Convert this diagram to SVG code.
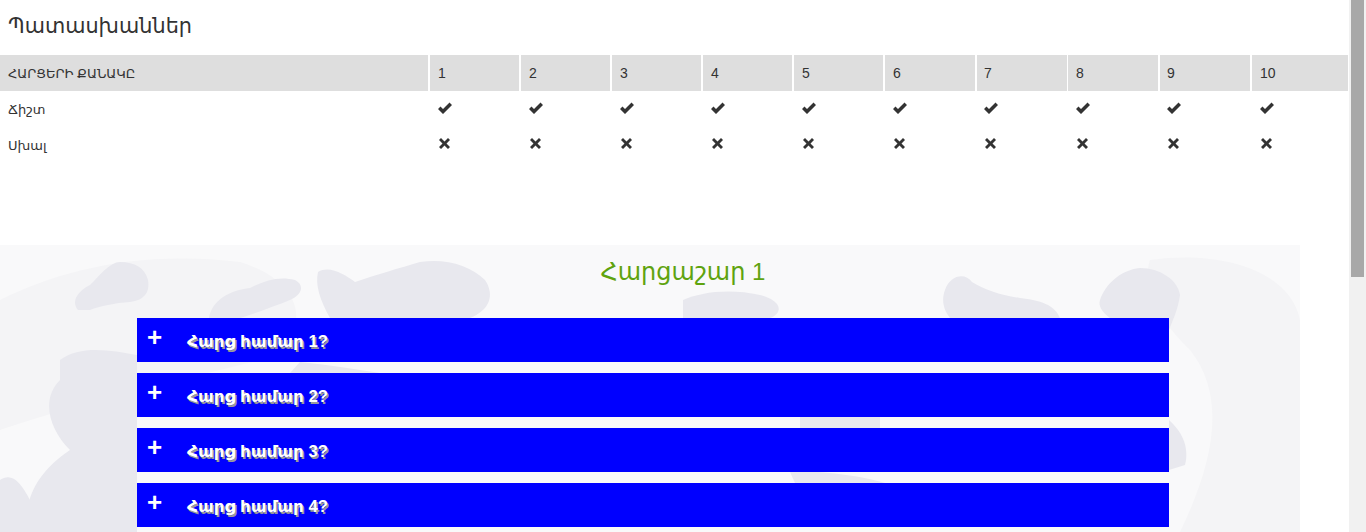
<svg xmlns="http://www.w3.org/2000/svg" width="1366" height="532" viewBox="0 0 1366 532">
<style>
.t{font-family:"Liberation Sans","DejaVu Sans",sans-serif;fill:#333}
.hd{font-size:13px}
.num{font-size:14px}
.title{font-size:21px}
.qs{font-family:"Liberation Sans","DejaVu Sans",sans-serif;font-size:24px;fill:#5fa30f}
.q{font-family:"Liberation Sans","DejaVu Sans",sans-serif;font-size:16.5px;font-weight:bold}
.qsh{fill:#9a9a9a}
.qw{fill:#fff}
.plus{font-family:"Liberation Sans","DejaVu Sans",sans-serif;font-size:26px;font-weight:bold;fill:#fff}
.cell{fill:#dedede}
.bar{fill:#0000ff}
.blob{fill:#e8e8ee}
.blob2{fill:#f4f4f6}
</style>
<defs>
<path id="chk" d="M0,6 L2.5,3.5 L5,6 L11.5,-0.5 L14,2 L5,11 Z" fill="#333"/>
<path id="crs" d="M0,2 L2,0 L5.5,3.5 L9,0 L11,2 L7.5,5.5 L11,9 L9,11 L5.5,7.5 L2,11 L0,9 L3.5,5.5 Z" fill="#333"/>
</defs>
<rect width="1366" height="532" fill="#fff"/>
<g id="camo">
<rect x="0" y="245" width="1300" height="287" fill="#f9f9fa"/>
<path class="blob2" d="M0,300 C60,270 140,250 240,262 C300,280 320,330 260,360 C180,380 90,400 0,430 Z"/>
<path class="blob2" d="M1150,260 C1220,250 1290,270 1300,320 L1300,532 L1180,532 C1210,470 1230,400 1190,350 C1160,320 1140,290 1150,260 Z"/>
<path class="blob" d="M78,310 C70,300 80,290 90,285 C100,275 110,262 120,262 C135,262 145,268 148,280 C150,292 145,300 130,302 C115,303 100,306 90,310 Z"/>
<path class="blob" d="M209,318 C212,300 230,290 250,288 C265,280 280,276 295,280 C305,285 302,295 290,300 C270,308 250,315 235,320 Z"/>
<path class="blob" d="M318,272 C330,265 345,275 355,282 C375,275 400,268 420,262 C445,258 470,265 485,280 C495,295 490,310 470,318 L330,318 C320,300 315,285 318,272 Z"/>
<path class="blob" d="M683,300 C700,292 730,288 760,295 C780,300 785,312 770,318 L683,318 Z"/>
<path class="blob" d="M945,290 C950,275 965,272 972,282 C985,290 1000,295 1020,298 C1040,300 1055,305 1060,318 L950,318 C942,308 942,298 945,290 Z"/>
<path class="blob" d="M1100,300 C1105,285 1120,270 1140,268 C1160,268 1178,280 1180,295 C1178,310 1172,322 1169,330 L1169,318 L1110,318 C1102,312 1098,306 1100,300 Z"/>
<path class="blob" d="M60,360 C80,345 110,350 137,355 L137,532 L30,532 C20,500 40,470 70,450 C50,430 40,400 60,380 Z"/>
<path class="blob" d="M0,480 C15,470 25,490 35,510 L40,532 L0,532 Z"/>
<path class="blob" d="M800,417 C820,410 860,412 880,417 L880,428 L800,428 Z"/>
<path class="blob" d="M300,362 C330,365 360,370 380,373 L290,373 Z"/>
<path class="blob" d="M790,472 C820,470 860,476 885,483 L795,483 Z"/>
<path class="blob" d="M1169,420 C1180,430 1190,445 1185,465 L1169,470 Z"/>
</g>
<g id="scrollbar">
<rect x="1349" y="0" width="17" height="532" fill="#f1f1f1"/>
<rect x="1351" y="0" width="13" height="277" fill="#a8a8a8"/>
</g>
<g id="title"><text class="t title" x="8" y="33" textLength="184" lengthAdjust="spacingAndGlyphs">Պատասխաններ</text></g>
<g id="table">
<g id="header">
<rect class="cell" x="0" y="55" width="428" height="36"/>
<rect class="cell" x="430" y="55" width="89" height="36"/>
<rect class="cell" x="521" y="55" width="89" height="36"/>
<rect class="cell" x="612" y="55" width="89" height="36"/>
<rect class="cell" x="703" y="55" width="89" height="36"/>
<rect class="cell" x="794" y="55" width="89" height="36"/>
<rect class="cell" x="885" y="55" width="90" height="36"/>
<rect class="cell" x="977" y="55" width="90" height="36"/>
<rect class="cell" x="1068" y="55" width="90" height="36"/>
<rect class="cell" x="1160" y="55" width="90" height="36"/>
<rect class="cell" x="1252" y="55" width="96" height="36"/>
<text class="t hd" x="8" y="78">ՀԱՐՑԵՐԻ ՔԱՆԱԿԸ</text>
<text class="t num" x="438" y="78">1</text>
<text class="t num" x="529" y="78">2</text>
<text class="t num" x="620" y="78">3</text>
<text class="t num" x="711" y="78">4</text>
<text class="t num" x="802" y="78">5</text>
<text class="t num" x="893" y="78">6</text>
<text class="t num" x="984" y="78">7</text>
<text class="t num" x="1076" y="78">8</text>
<text class="t num" x="1167" y="78">9</text>
<text class="t num" x="1260" y="78">10</text>
</g>
<g id="row-right">
<text class="t hd" x="8" y="114">Ճիշտ</text>
<use href="#chk" x="438" y="103"/><use href="#chk" x="529" y="103"/><use href="#chk" x="620" y="103"/><use href="#chk" x="711" y="103"/><use href="#chk" x="802" y="103"/><use href="#chk" x="893" y="103"/><use href="#chk" x="984" y="103"/><use href="#chk" x="1076" y="103"/><use href="#chk" x="1167" y="103"/><use href="#chk" x="1260" y="103"/>
</g>
<g id="row-wrong">
<text class="t hd" x="8" y="150">Սխալ</text>
<use href="#crs" x="439" y="138"/><use href="#crs" x="530" y="138"/><use href="#crs" x="621" y="138"/><use href="#crs" x="712" y="138"/><use href="#crs" x="803" y="138"/><use href="#crs" x="894" y="138"/><use href="#crs" x="985" y="138"/><use href="#crs" x="1077" y="138"/><use href="#crs" x="1168" y="138"/><use href="#crs" x="1261" y="138"/>
</g>
</g>
<g id="quiz-title"><text class="qs" x="683" y="280" text-anchor="middle">Հարցաշար 1</text></g>
<g id="q1">
<rect class="bar" x="137" y="318" width="1032" height="44"/>
<text class="plus" x="147" y="346">+</text>
<text class="q qsh" x="188.5" y="348.5" textLength="141" lengthAdjust="spacingAndGlyphs">Հարց համար 1?</text>
<text class="q qw" x="187" y="347" textLength="141" lengthAdjust="spacingAndGlyphs">Հարց համար 1?</text>
</g>
<g id="q2">
<rect class="bar" x="137" y="373" width="1032" height="44"/>
<text class="plus" x="147" y="401">+</text>
<text class="q qsh" x="188.5" y="403.5" textLength="141" lengthAdjust="spacingAndGlyphs">Հարց համար 2?</text>
<text class="q qw" x="187" y="402" textLength="141" lengthAdjust="spacingAndGlyphs">Հարց համար 2?</text>
</g>
<g id="q3">
<rect class="bar" x="137" y="428" width="1032" height="44"/>
<text class="plus" x="147" y="456">+</text>
<text class="q qsh" x="188.5" y="458.5" textLength="141" lengthAdjust="spacingAndGlyphs">Հարց համար 3?</text>
<text class="q qw" x="187" y="457" textLength="141" lengthAdjust="spacingAndGlyphs">Հարց համար 3?</text>
</g>
<g id="q4">
<rect class="bar" x="137" y="483" width="1032" height="44"/>
<text class="plus" x="147" y="511">+</text>
<text class="q qsh" x="188.5" y="513.5" textLength="141" lengthAdjust="spacingAndGlyphs">Հարց համար 4?</text>
<text class="q qw" x="187" y="512" textLength="141" lengthAdjust="spacingAndGlyphs">Հարց համար 4?</text>
</g>
</svg>
